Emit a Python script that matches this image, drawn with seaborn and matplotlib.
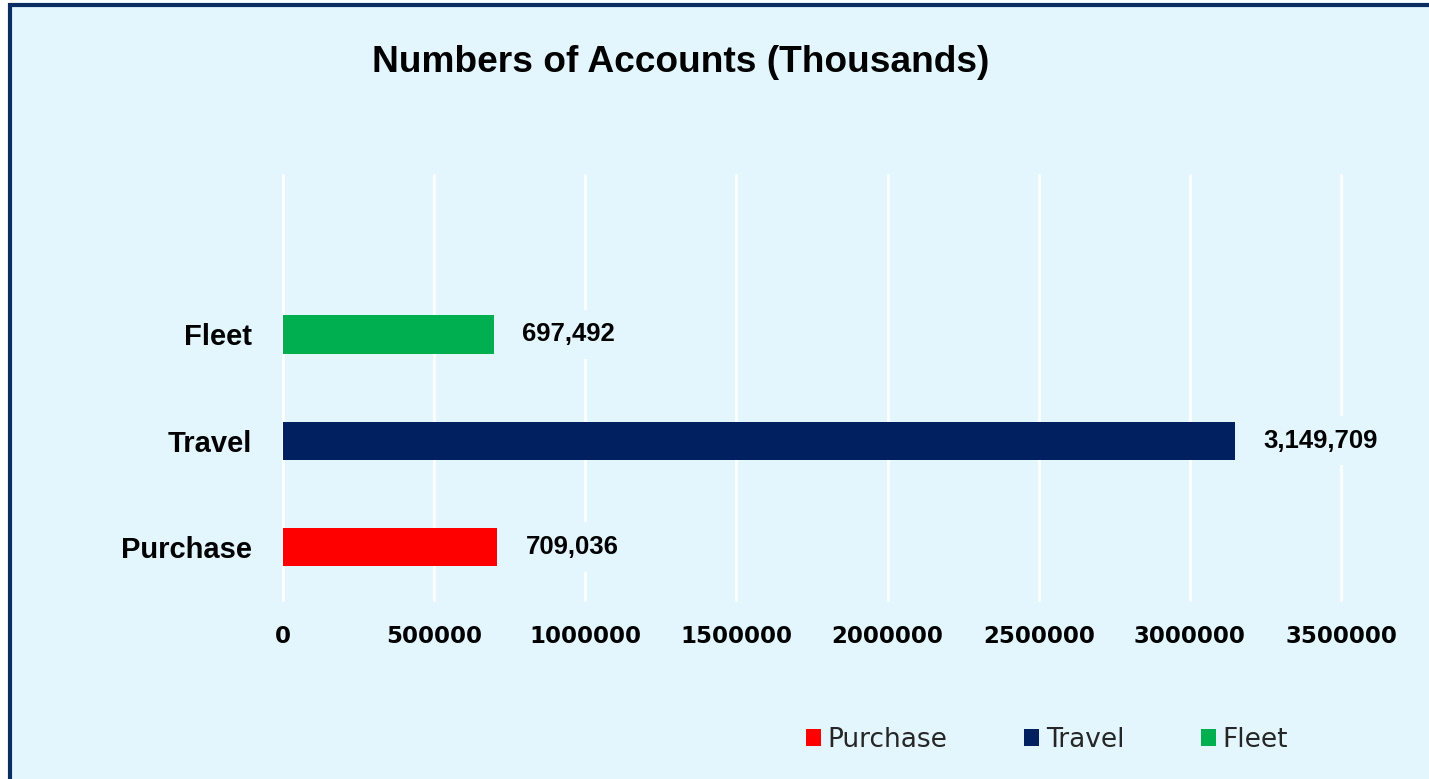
import matplotlib
matplotlib.use("Agg")
import matplotlib.pyplot as plt
from matplotlib.patches import Rectangle
import seaborn as sns
import pandas as pd

# Data
categories = ["Purchase", "Travel", "Fleet"]
accounts = [709036, 3149709, 697492]
bar_colors = ["#FF0000", "#002060", "#00B050"]
x_ticks = [0, 500000, 1000000, 1500000, 2000000, 2500000, 3000000, 3500000]
chart_title = "Numbers of Accounts (Thousands)"

bg = "#E3F6FD"
navy = "#0B2D62"

sns.set_theme(style="white")
plt.rcParams['font.family'] = ['Liberation Sans', 'DejaVu Sans']

df = pd.DataFrame({"category": categories, "accounts": accounts})
palette = dict(zip(categories, bar_colors))

W, H = 1429, 779
fig = plt.figure(figsize=(W / 100, H / 100), dpi=100)
fig.patch.set_facecolor("white")

# panel background with navy frame (left and top visible)
frame = Rectangle((9.5 / W, -0.05), 1.1, 1 - 5 / H + 0.05, transform=fig.transFigure,
                  facecolor=bg, edgecolor=navy, linewidth=3, zorder=-10)
fig.patches.append(frame)

ax = fig.add_axes([283 / W, 1 - 600 / H, (1341 - 283) / W, (600 - 175) / H])
ax.set_facecolor("none")

sns.barplot(data=df, x="accounts", y="category", hue="category",
            order=["Fleet", "Travel", "Purchase"], hue_order=categories,
            palette=palette, width=0.36, linewidth=0, saturation=1,
            legend=True, ax=ax)

ax.set_xlim(0, 3500000)
ax.set_ylim(2.5, -1.5)
ax.set_xticks(x_ticks)
ax.set_xticklabels([str(t) for t in x_ticks], fontfamily="DejaVu Sans",
                   fontweight="bold", fontsize=16.5)
ax.tick_params(axis="x", length=0, pad=18, labelcolor="black")
ax.tick_params(axis="y", length=0, pad=22, labelsize=21, labelcolor="black")
for lab in ax.get_yticklabels():
    lab.set_fontweight("bold")
ax.set_xlabel("")
ax.set_ylabel("")
for s in ax.spines.values():
    s.set_visible(False)

ax.grid(axis="x", color="white", linewidth=2)
ax.grid(axis="y", visible=False)
ax.set_axisbelow(True)
for gl in ax.get_xgridlines():
    gl.set_clip_on(False)

# value labels
pos = {"Fleet": 0, "Travel": 1, "Purchase": 2}
for cat, val in zip(categories, accounts):
    ax.annotate(f"{val:,}", xy=(val, pos[cat]), xytext=(20.5, 0),
                textcoords="offset points", ha="left", va="center",
                fontsize=18.5, fontweight="bold", color="black",
                bbox=dict(boxstyle="square,pad=0.5", facecolor=bg, edgecolor="none"))

# legend at the bottom
handles, labels = ax.get_legend_handles_labels()
ax.legend(handles, labels, loc="center", bbox_to_anchor=(1047 / W, 1 - 740 / H),
          bbox_transform=fig.transFigure, ncol=3, frameon=False,
          prop={"family": "DejaVu Sans", "size": 19}, labelcolor="#262626",
          handlelength=0.58, handleheight=0.58, handletextpad=0.25,
          columnspacing=2.9)

fig.text(681 / W, 1 - 63 / H, chart_title, ha="center", va="center",
         fontsize=26.7, fontweight="bold", color="black")

fig.savefig("out.png", dpi=100, facecolor=fig.get_facecolor())
